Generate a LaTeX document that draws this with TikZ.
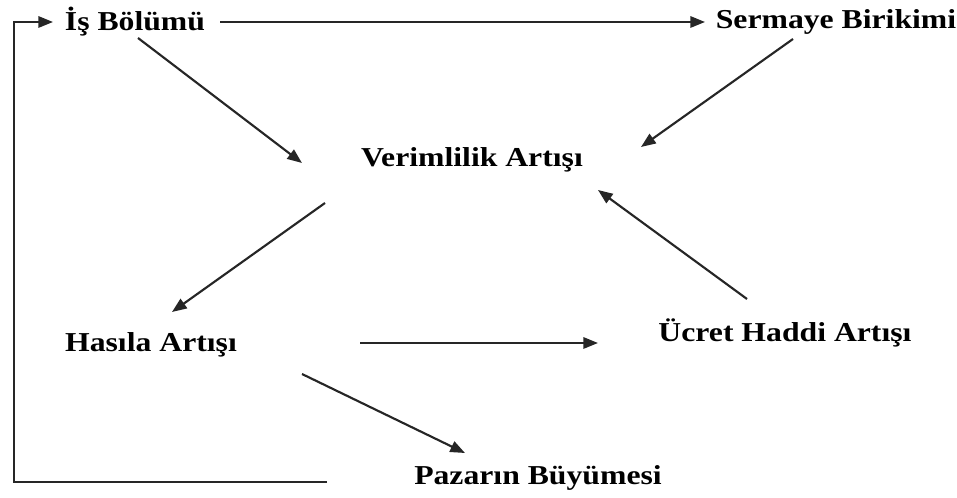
\documentclass[tikz,border=0pt]{standalone}
\usepackage{fontspec}
\setmainfont{Liberation Serif}[FakeStretch=1.16]
\usetikzlibrary{arrows.meta,calc}

\begin{document}
\begin{tikzpicture}[x=0.75pt,y=-0.75pt,
  kavram/.style={font=\fontsize{20.5}{24}\selectfont\bfseries, inner sep=0pt},
  ok/.style={line width=1.6pt, draw=black!85, -{Triangle[length=11pt,width=8.5pt]}}]
  \useasboundingbox (0,0) rectangle (957,498);
  % Kavramlar
  \node[kavram] (isbolumu) at (135,22) {İş Bölümü};
  \node[kavram] (sermaye) at (836,22) {Sermaye Birikimi};
  \node[kavram] (verim) at (472,160) {Verimlilik Artışı};
  \node[kavram] (hasila) at (151,345) {Hasıla Artışı};
  \node[kavram] (ucret) at (785,333) {Ücret Haddi Artışı};
  \node[kavram] (pazar) at (538,478) {Pazarın Büyümesi};
  % Oklar
  \draw[ok] ($(isbolumu)+(85,0)$) -- ($(sermaye)+(-131,0)$);
  \draw[ok] ($(isbolumu)+(3,16)$) -- ($(verim)+(-170,3)$);
  \draw[ok] ($(sermaye)+(-43,17)$) -- ($(verim)+(169,-13)$);
  \draw[ok] ($(verim)+(-147,43)$) -- ($(hasila)+(21,-33)$);
  \draw[ok] ($(ucret)+(-38,-34)$) -- ($(verim)+(126,30)$);
  \draw[ok] ($(hasila)+(209,-2)$) -- ($(ucret)+(-187,10)$);
  \draw[ok] ($(hasila)+(151,29)$) -- ($(pazar)+(-73,-25)$);
  % Geri besleme
  \draw[ok] ($(pazar)+(-211,4)$) -| ($(isbolumu)+(-121,0)$) -- ($(isbolumu)+(-82,0)$);
\end{tikzpicture}
\end{document}
